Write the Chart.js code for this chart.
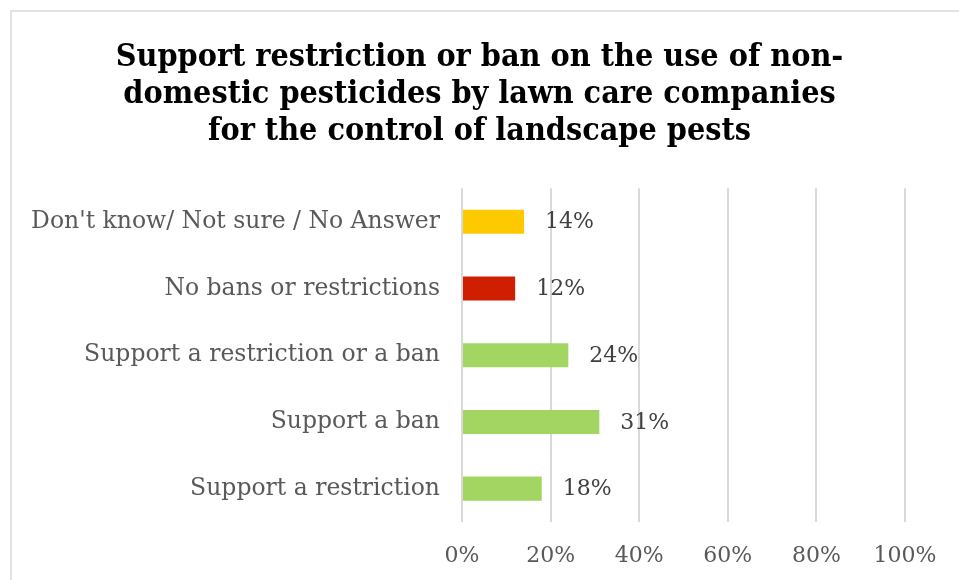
<!DOCTYPE html>
<html>
<head>
<meta charset="utf-8">
<script src="https://cdn.jsdelivr.net/npm/chart.js@4/dist/chart.umd.min.js"></script>
<style>
  html, body { margin: 0; padding: 0; background: #fff; overflow: hidden; }
  #frame {
    position: absolute; left: 10px; top: 10px;
    width: 1200px; height: 900px;
    border: 2px solid #e2e2e2;
  }
  #wrap { position: absolute; left: 0; top: 0; width: 959px; height: 580px; }
</style>
</head>
<body>
<div id="frame"></div>
<div id="wrap"><canvas id="chart" width="959" height="580"></canvas></div>
<script>
// Survey answers, top to bottom
const categories = [
  "Don't know/ Not sure / No Answer",
  "No bans or restrictions",
  "Support a restriction or a ban",
  "Support a ban",
  "Support a restriction"
];
const shares = [14, 12, 24, 31, 18];
const barColors = ["#ffc900", "#cf1f00", "#a2d562", "#a2d562", "#a2d562"];
const xTicks = [0, 20, 40, 60, 80, 100];

const titleLines = [
  "Support restriction or ban on the use of non-",
  "domestic pesticides by lawn care companies",
  "for the control of landscape pests"
];

const SERIF = "'DejaVu Serif', 'Liberation Serif', serif";

// writes the percentage just past the end of each bar
const valueLabels = {
  id: "valueLabels",
  afterDatasetsDraw(chart) {
    const ctx = chart.ctx;
    const meta = chart.getDatasetMeta(0);
    ctx.save();
    ctx.font = "22px " + SERIF;
    ctx.fillStyle = "#404040";
    ctx.textAlign = "left";
    ctx.textBaseline = "middle";
    meta.data.forEach((bar, i) => {
      ctx.fillText(shares[i] + "%", bar.x + 21, bar.y + 1);
    });
    ctx.restore();
  }
};

new Chart(document.getElementById("chart"), {
  type: "bar",
  data: {
    labels: categories,
    datasets: [{
      data: shares,
      backgroundColor: barColors,
      barPercentage: 0.36,
      categoryPercentage: 1
    }]
  },
  options: {
    indexAxis: "y",
    responsive: false,
    animation: false,
    layout: { padding: { top: 0, right: 0, bottom: 10, left: 0 } },
    scales: {
      x: {
        min: 0,
        max: 100,
        afterBuildTicks: (axis) => { axis.ticks = xTicks.map(v => ({ value: v })); },
        afterFit: (axis) => { axis.height = 48; },
        border: { display: false },
        grid: { color: "#d9d9d9", lineWidth: 2, drawTicks: false },
        ticks: {
          padding: 21,
          color: "#595959",
          font: { family: SERIF, size: 22 },
          callback: (v) => v + "%"
        }
      },
      y: {
        afterFit: (axis) => { axis.width = 462; },
        border: { display: false },
        grid: { display: false, drawTicks: false },
        ticks: {
          padding: 22,
          color: "#595959",
          font: { family: SERIF, size: 23.5 }
        }
      },
      // empty spacer on the right so the plot ends short of the edge
      spacer: {
        type: "linear",
        axis: "y",
        position: "right",
        afterFit: (axis) => { axis.width = 54; },
        border: { display: false },
        grid: { display: false, drawTicks: false },
        ticks: { display: false }
      }
    },
    plugins: {
      legend: { display: false },
      tooltip: { enabled: false },
      title: {
        display: true,
        text: titleLines,
        color: "#000",
        font: { family: "'DejaVu Serif Condensed', " + SERIF, size: 32, weight: "bold", lineHeight: 1.16 },
        padding: { top: 39, bottom: 38 }
      }
    }
  },
  plugins: [valueLabels]
});
</script>
</body>
</html>
